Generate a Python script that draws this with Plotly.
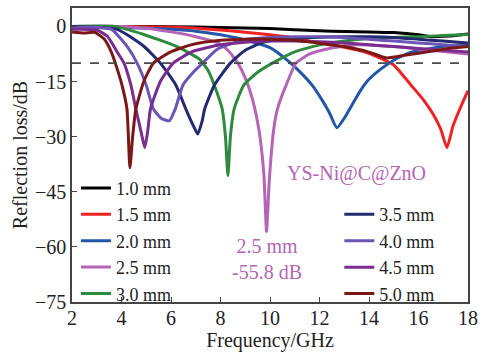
import plotly.graph_objects as go

# ---- data ----
labels = ["1.0 mm", "1.5 mm", "2.0 mm", "2.5 mm", "3.0 mm", "3.5 mm", "4.0 mm", "4.5 mm", "5.0 mm"]
colors = ["#000000", "#ee2222", "#2456a8", "#b565b5", "#2e8b3e", "#232a70", "#6b55b5", "#7a2d8e", "#7a1818"]

f_10 = [2, 4, 6, 8, 10, 12, 13, 14, 15, 16, 16.5, 17, 17.5, 18]
rl_10 = [0, 0, -0.1, -0.3, -0.6, -1.2, -1.4, -1.5, -1.7, -2.3, -2.8, -2.7, -2.5, -2.1]

f_15 = [2, 4, 6, 8, 9, 10, 11, 12, 13, 13.75, 14.5, 15, 15.7, 16.2, 16.6, 16.9, 17.15, 17.4, 17.7, 18]
rl_15 = [0, 0, -0.2, -1, -1.6, -2.3, -3.2, -4.5, -5.7, -6.8, -8.8, -10.5, -16, -20, -24, -28, -33, -27, -22, -17.5]

f_20 = [2, 4, 6, 7, 8, 9, 10, 10.8, 11.3, 11.7, 12.1, 12.4, 12.7, 13.0, 13.3, 13.7, 14.0, 14.5, 15, 15.7, 16.5, 17.2, 18]
rl_20 = [0, -0.3, -0.8, -1.3, -2.3, -3.7, -5.8, -9.8, -13, -16, -20, -23.5, -27.6, -25, -21.5, -17, -14.4, -11.5, -9.2, -7, -6, -5.3, -4.8]

f_25 = [2, 4, 5, 6, 7, 7.9, 8.3, 8.7, 9.0, 9.3, 9.55, 9.75, 9.86, 9.97, 10.15, 10.3, 10.65, 11.05, 11.6, 12.4, 13.5, 15, 16.5, 18]
rl_25 = [0, 0, -0.5, -1.5, -2.8, -4.5, -6.5, -10, -14, -20, -28, -40, -55.8, -42, -28, -22.5, -16, -10, -7.5, -6, -5, -5.5, -6.5, -7.5]

f_30 = [2, 3.7, 4.9, 6.2, 7.16, 7.5, 7.75, 8.07, 8.2, 8.3, 8.4, 8.55, 8.94, 9.5, 10.1, 11.05, 12.1, 13, 14, 15, 16, 17, 18]
rl_30 = [0, 0, -2.2, -5.4, -9, -12, -16, -22.5, -30, -40.6, -30, -22.5, -16, -12.5, -10, -6.8, -4.9, -4, -3.3, -3, -2.8, -2.5, -2.2]

f_35 = [2, 3.83, 4.9, 5.57, 6.2, 6.6, 6.9, 7.08, 7.25, 7.36, 7.75, 8.4, 9.0, 9.74, 10.5, 11.7, 13, 14, 15, 16, 17, 18]
rl_35 = [0, -0.8, -5.4, -10, -16, -22.5, -27, -29.3, -26, -22.5, -16, -10, -6.5, -4.3, -3.5, -3, -2.8, -2.8, -3, -3.5, -4, -4.5]

f_40 = [2, 3, 3.6, 4.22, 4.63, 5.0, 5.29, 5.6, 5.93, 6.17, 6.48, 6.9, 7.28, 7.87, 9.06, 10, 11, 12, 13, 14, 15, 16, 17, 18]
rl_40 = [-0.3, -0.3, -0.8, -5.4, -10, -16, -22.5, -25, -25.7, -22.5, -16, -12.5, -10, -6.2, -3.5, -3, -2.8, -2.8, -3, -3.5, -4, -4.5, -5, -5.5]

f_45 = [2, 3, 3.43, 3.83, 4.1, 4.38, 4.58, 4.8, 4.94, 5.05, 5.17, 5.57, 6.09, 6.88, 8, 9, 10, 11, 12, 13, 14, 15, 16, 17, 18]
rl_45 = [-0.8, -1, -2.7, -7, -10, -16, -22.5, -29, -33, -29, -22.5, -15, -10, -6.8, -5, -4.3, -4, -4, -4.2, -4.5, -5, -5.5, -6, -6.5, -7]

f_50 = [2, 2.5, 2.91, 3.31, 3.59, 3.75, 4.02, 4.22, 4.34, 4.45, 4.58, 4.9, 5.29, 5.97, 6.88, 8, 9, 10, 11, 12, 13, 14, 14.7, 15.5, 16.5, 17.2, 18]
rl_50 = [-1.5, -1.8, -1.6, -3.5, -7, -10, -16, -22.5, -38.5, -30, -22.5, -15, -10, -7, -4.9, -3.8, -3.5, -3.5, -3.8, -4.6, -5.5, -7, -8.6, -7.8, -6.8, -6, -5.5]

freqs = [f_10, f_15, f_20, f_25, f_30, f_35, f_40, f_45, f_50]
losses = [rl_10, rl_15, rl_20, rl_25, rl_30, rl_35, rl_40, rl_45, rl_50]

threshold = -10
x_ticks = [2, 4, 6, 8, 10, 12, 14, 16, 18]
y_ticks = [0, -15, -30, -45, -60, -75]

FONT = "Liberation Serif"
FS = 20

fig = go.Figure()

fig.add_hline(y=threshold, line=dict(color="#4a4a4a", width=1.8, dash="dash"))

for i, (lab, col, fx, ry) in enumerate(zip(labels, colors, freqs, losses)):
    fig.add_trace(go.Scatter(
        x=fx, y=ry, mode="lines", name=lab,
        line=dict(color=col, width=3, shape="spline", smoothing=0.5),
        legend="legend" if i < 5 else "legend2",
    ))

fig.add_annotation(x=13.5, y=-40, text="YS-Ni@C@ZnO", showarrow=False,
                   font=dict(family=FONT, size=FS, color="#b565b5"))
fig.add_annotation(x=9.86, y=-63.4, text="2.5 mm<br>-55.8 dB", showarrow=False,
                   font=dict(family=FONT, size=FS, color="#b565b5"))

axis_common = dict(
    showline=True, linecolor="#444444", linewidth=1.5, mirror=True,
    ticks="inside", ticklen=5, tickcolor="#444444", tickwidth=1.2,
    showgrid=False, zeroline=False,
    tickfont=dict(family=FONT, size=FS, color="#222222"),
)

fig.update_layout(
    width=484, height=356,
    margin=dict(l=72, r=9, t=6, b=54),
    paper_bgcolor="white", plot_bgcolor="white",
    font=dict(family=FONT, size=FS, color="#222222"),
    xaxis=dict(range=[2, 18], tickvals=x_ticks, ticklabeloverflow="allow", ticklabelstandoff=-3,
               title=dict(text="Frequency/GHz", font=dict(family=FONT, size=FS), standoff=0),
               **axis_common),
    yaxis=dict(range=[-75, 5], tickvals=y_ticks,
               title=dict(text="Reflection loss/dB", font=dict(family=FONT, size=FS), standoff=2),
               **axis_common),
    legend=dict(x=0.01, y=0.45, xanchor="left", yanchor="top", bgcolor="rgba(0,0,0,0)",
                font=dict(family=FONT, size=18), tracegroupgap=0, itemwidth=30),
    legend2=dict(x=0.675, y=0.36, xanchor="left", yanchor="top", bgcolor="rgba(0,0,0,0)",
                 font=dict(family=FONT, size=18), tracegroupgap=0, itemwidth=30),
)

fig.write_html("out.html", config={"displayModeBar": False},
               post_script="document.body.style.margin='0';")
